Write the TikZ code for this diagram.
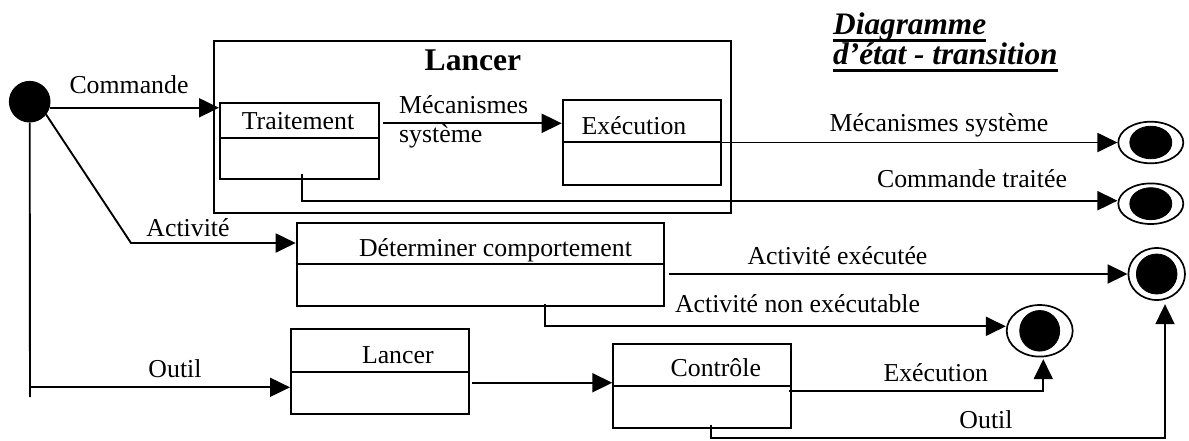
\documentclass[tikz,border=0pt]{standalone}
\usepackage{fontspec}
\setmainfont{Liberation Serif}
\usetikzlibrary{arrows.meta,calc,shapes.geometric}
\begin{document}
\begin{tikzpicture}[x=1pt,y=-1pt,
  txt/.style={font=\fontsize{25.8}{30}\selectfont, inner sep=0pt, anchor=base},
  ttl/.style={font=\bfseries\itshape\fontsize{31.3}{36}\selectfont, inner sep=0pt, anchor=base west},
  box/.style={draw, line width=2.1pt, inner sep=0pt, anchor=north west},
  divider/.style={line width=2.1pt},
  conn/.style={line width=1.9pt},
  arr/.style={conn, -{Triangle[length=20pt,width=19pt]}},
  initstate/.style={circle, draw, fill=black, minimum size=40.6pt, inner sep=0pt, line width=1pt},
  finalring/.style={ellipse, draw, line width=1.7pt, inner sep=0pt},
  finaldot/.style={ellipse, draw, fill=black, line width=0.8pt, inner sep=0pt},
]
\useasboundingbox (0,0) rectangle (1189,440);

% title
\node[ttl] (title1) at (833,34.5) {Diagramme};
\node[ttl] (title2) at (833,64.5) {d’état - transition};
\draw[line width=2.8pt] ([yshift=-6.3pt]title1.base west) -- ([yshift=-6.3pt]title1.base east);
\draw[line width=2.8pt] ([yshift=-6.3pt]title2.base west) -- ([yshift=-6.3pt]title2.base east);

% initial state
\node[initstate] (init) at (29.7,101.7) {};

% composite state "Lancer"
\node[box, minimum width=517pt, minimum height=172pt] (outer) at (213,40) {};
\node[font=\bfseries\fontsize{31.6}{36}\selectfont, inner sep=0pt, anchor=base] (outerT) at (473,70.7) {Lancer};

% simple states
\node[box, minimum width=159pt, minimum height=76pt] (trait) at (219,101.7) {};
\draw[divider] (trait.west |- 0,137.7) -- (trait.east |- 0,137.7);
\node[txt] (traitT) at (298,129.3) {Traitement};

\node[box, minimum width=158.3pt, minimum height=84.7pt] (exec) at (561.7,99.3) {};
\draw[divider] (exec.west |- 0,142) -- (exec.east |- 0,142);
\node[txt] (execT) at (634,134) {Exécution};

\node[box, minimum width=367pt, minimum height=83.6pt] (determ) at (295.7,221.7) {};
\draw[divider] (determ.west |- 0,264.3) -- (determ.east |- 0,264.3);
\node[txt] (determT) at (495.5,256) {Déterminer comportement};

\node[box, minimum width=178.3pt, minimum height=84.4pt] (lancerB) at (290,328.3) {};
\draw[divider] (lancerB.west |- 0,372.3) -- (lancerB.east |- 0,372.3);
\node[txt] (lancerBT) at (397.8,363.3) {Lancer};

\node[box, minimum width=177.7pt, minimum height=84pt] (ctrl) at (612.3,342.7) {};
\draw[divider] (ctrl.west |- 0,385.7) -- (ctrl.east |- 0,385.7);
\node[txt] (ctrlT) at (715.8,376.7) {Contrôle};

% final states
\node[finalring, minimum width=65pt, minimum height=41.6pt] (f1) at (1150.8,142.5) {};
\node[finaldot, minimum width=42pt, minimum height=32.6pt] (f1dot) at (f1) {};
\node[finalring, minimum width=65pt, minimum height=40.6pt] (f2) at (1150.8,203.7) {};
\node[finaldot, minimum width=42pt, minimum height=32pt] (f2dot) at (f2) {};
\node[finalring, minimum width=56.6pt, minimum height=52pt] (f3) at (1156.7,274) {};
\node[finaldot, minimum width=40.6pt, minimum height=40pt] (f3dot) at (f3) {};
\node[finalring, minimum width=66pt, minimum height=51.6pt] (f4) at (1039.7,330.8) {};
\node[finaldot, minimum width=40pt, minimum height=40.6pt] (f4dot) at (f4) {};

% transitions from the initial state
\draw[arr] (init.-17) -- (trait.west |- init.-17);
\node[txt] (lCommande) at (129,93.3) {Commande};

\coordinate (actJ) at (131,243);
\draw[arr] (init.-38) -- (actJ) -- (determ.west |- actJ);
\node[txt] (lAct) at (188,236.7) {Activité};

\coordinate (outEnd) at (30,397);
\coordinate (outJ) at (30,387.3);
\draw[conn] (init.south) -- (outEnd);
\draw[arr] (outJ) -- (lancerB.west |- outJ);
\node[txt] (lOutilA) at (175,377.7) {Outil};

% inside the composite state
\coordinate (mecS) at (383,123.3);
\draw[arr] (mecS) -- (exec.west |- mecS);
\node[txt, anchor=base west] (lMeca1) at (399,113.3) {Mécanismes};
\node[txt, anchor=base west] (lMeca2) at (399,142.7) {système};

% towards the final states
\draw[arr] ([xshift=-5pt]exec.east |- f1.west) -- (f1.west);
\node[txt] (lMecaSys) at (939,131.7) {Mécanismes système};

\draw[arr] ([xshift=2.5pt,yshift=6pt]trait.south) |- ([yshift=3pt]f2.west);
\node[txt] (lCmdT) at (972,187.3) {Commande traitée};

\draw[arr] ([xshift=4pt]determ.east |- f3.west) -- (f3.west);
\node[txt] (lActExe) at (837.5,264.3) {Activité exécutée};

\draw[arr] ([xshift=64.8pt,yshift=3.6pt]determ.south) |- ([yshift=4.5pt]f4.west);
\node[txt] (lActNon) at (797.5,312.7) {Activité non exécutable};

\coordinate (lc) at ([xshift=2pt,yshift=-11.2pt]lancerB.east);
\draw[arr] (lc) -- (ctrl.west |- lc);

\coordinate (ce) at ([xshift=-3.3pt,yshift=-5.3pt]ctrl.east);
\coordinate (f4in) at ([xshift=3.6pt,yshift=-1.7pt]f4.south);
\draw[arr] (ce) -| (f4in);
\node[txt] (lExecB) at (935.8,381.7) {Exécution};

\coordinate (cs) at ([xshift=8.8pt,yshift=3.7pt]ctrl.south);
\coordinate (f3in) at ([xshift=8.3pt,yshift=-3.3pt]f3.south);
\coordinate (ob) at (0,438.3);
\draw[arr] (cs) |- (ob -| f3in) -- (f3in);
\node[txt] (lOutilB) at (986,428.3) {Outil};
\end{tikzpicture}
\end{document}
